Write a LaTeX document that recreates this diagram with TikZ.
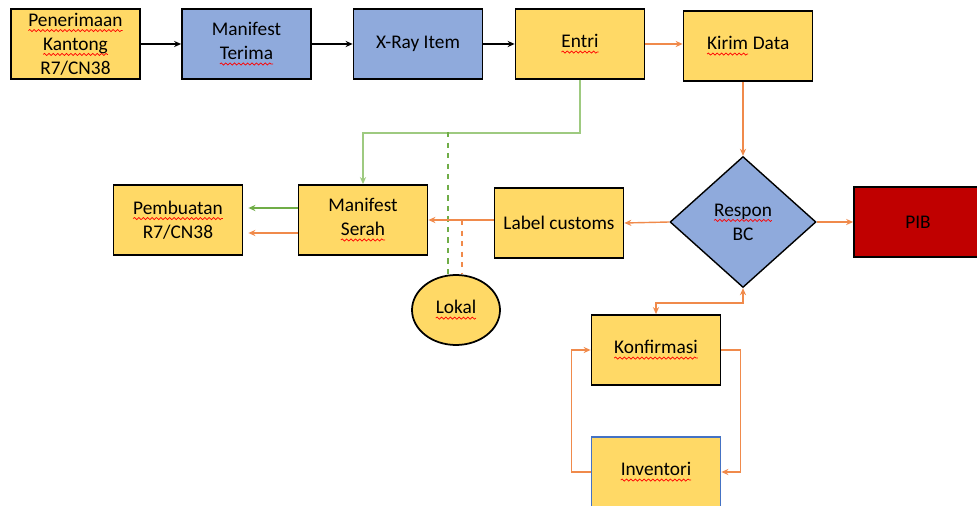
\documentclass[tikz,border=0pt]{standalone}
\usepackage{fontspec}
\setmainfont{Carlito}
\usetikzlibrary{arrows.meta,shapes.geometric,decorations.pathmorphing}
\definecolor{boxyellow}{HTML}{FFD966}
\definecolor{boxblue}{HTML}{8FAADC}
\definecolor{boxred}{HTML}{C00000}
\definecolor{invblue}{HTML}{4472C4}
\definecolor{lineorange}{HTML}{F08A4B}
\definecolor{linegreen}{HTML}{70AD47}
\definecolor{lightgreen}{HTML}{A9D18E}
\tikzset{spellword/.style={shape=rectangle,draw=none,fill=none,inner sep=0pt,outer sep=0pt,minimum width=0pt,minimum height=0pt}}
% red wavy underline
\newcommand{\spell}[1]{\tikz[baseline=(w.base)]{\node[spellword] (w) {#1};
  \draw[red,line width=0.4pt,decorate,decoration={snake,amplitude=0.6pt,segment length=2.5pt}] ([yshift=-2.4pt]w.base west) -- ([yshift=-2.4pt]w.base east);}}

\begin{document}
\begin{tikzpicture}[x=0.02cm,y=-0.02cm,font=\fontsize{11}{13.6}\selectfont,
    box/.style={draw,line width=1pt,fill=boxyellow,minimum width=2.58cm,minimum height=1.4cm,align=center,inner xsep=1pt,inner ysep=0pt},
    bluebox/.style={box,fill=boxblue},
    arr/.style={line width=0.8pt,-{Stealth[length=4pt,width=3.5pt]}},
    oarr/.style={arr,lineorange},
    garr/.style={arr,linegreen}]
  \useasboundingbox (0,0) rectangle (977,506);
  \node[box] (pen) at (75.5,44) {\spell{Penerimaan}\\\spell{Kantong}\\R7/CN38};
  \node[bluebox] (terima) at (246.5,44) {Manifest\\\spell{Terima}};
  \node[bluebox] (xray) at (418,44) {X-Ray Item};
  \node[box] (entri) at (580,44) {\spell{Entri}};
  \node[box] (kirim) at (748,46) {\spell{Kirim} Data};
  \node[draw,line width=0.8pt,fill=boxblue,diamond,minimum width=2.92cm,minimum height=2.62cm,inner sep=0,align=center] (respon) at (743,222) {\spell{Respon}\\BC};
  \node[box,fill=boxred,minimum width=2.56cm] (pib) at (918,222) {PIB};
  \node[box] (label) at (559,223) {Label customs};
  \node[box] (serah) at (363,220) {Manifest\\\spell{Serah}};
  \node[box] (pemb) at (178,220) {\spell{Pembuatan}\\R7/CN38};
  \node[draw,line width=1pt,fill=boxyellow,ellipse,minimum width=1.76cm,minimum height=1.4cm,inner sep=0] (lokal) at (456,310) {\spell{Lokal}};
  \node[box] (konf) at (656,350) {\spell{Konfirmasi}};
  \node[box,draw=invblue] (inv) at (656,472) {\spell{Inventori}};

  \draw[arr] (pen) -- (terima);
  \draw[arr] (terima) -- (xray);
  \draw[arr] (xray) -- (entri);
  \draw[oarr] (entri.east) -- (entri.east -| kirim.west);
  \draw[oarr] (respon.north |- kirim.south) -- (respon.north);
  \draw[garr,lightgreen!80!linegreen] (entri.south) -- ++(0,53) -| (serah.north);
  \coordinate (gd) at (448,132);
  \coordinate (od) at (462,220);
  \draw[line width=0.8pt,linegreen,dashed] (gd) -- (gd |- lokal.north);
  \draw[line width=0.8pt,lineorange,dashed] (od) -- (od |- lokal.north);
  \draw[oarr] (respon.west) -- (label.east);
  \draw[oarr] (label.west |- serah.east) -- (serah.east);
  \draw[oarr] (respon.east) -- (pib.west);
  \draw[garr] ([yshift=0.24cm]serah.west) -- ([yshift=0.24cm,xshift=0.1cm]pemb.east);
  \draw[oarr] ([yshift=-0.26cm]serah.west) -- ([yshift=-0.26cm,xshift=0.1cm]pemb.east);
  \draw[oarr,{Stealth[length=4pt,width=3.5pt]}-{Stealth[length=4pt,width=3.5pt]}] (respon.south) -- ++(0,15) -| (konf.north);
  \draw[oarr] (konf.east) -- ++(19,0) |- (inv.east);
  \draw[oarr] (inv.west) -- ++(-19,0) |- (konf.west);
\end{tikzpicture}
\end{document}
